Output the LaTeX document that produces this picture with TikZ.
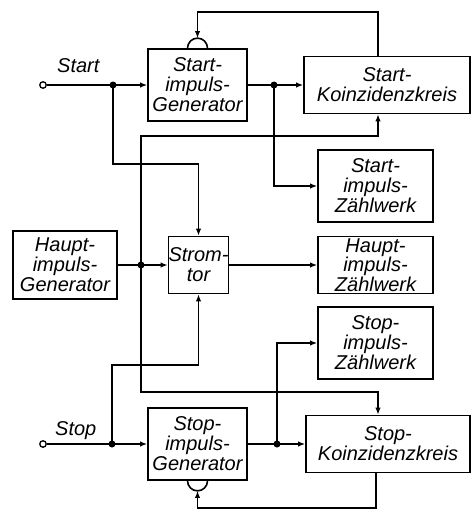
\documentclass[tikz,border=0pt]{standalone}
\usepackage{fontspec}
\setmainfont{Liberation Sans}
\usetikzlibrary{arrows.meta}
\begin{document}
\begin{tikzpicture}[x=1pt,y=-1pt,
  blk/.style={draw, line width=1.7pt, inner sep=0pt, align=center, font=\fontsize{20}{20}\selectfont\itshape},
  tight/.style={font=\fontsize{20}{17}\selectfont\itshape},
  wire/.style={line width=1.6pt},
  arr/.style={wire, -{Latex[length=7pt,width=5.5pt]}},
  dot/.style={circle, fill, inner sep=0pt, minimum size=7pt},
  term/.style={circle, draw, line width=1.3pt, fill=white, inner sep=0pt, minimum size=6.5pt},
  lbl/.style={font=\fontsize{20}{20}\selectfont\itshape, inner sep=0pt}]
\useasboundingbox (0,0) rectangle (473,512);

% blocks
\node[blk, minimum width=99pt, minimum height=72pt] (sg) at (197.5,85) {Start-\\impuls-\\Generator};
\node[blk, minimum width=166pt, minimum height=57pt] (sk) at (387,85) {Start-\\Koinzidenzkreis};
\node[blk, minimum width=115pt, minimum height=72pt] (sz) at (375.5,186) {Start-\\impuls-\\Zählwerk};
\node[blk, tight, minimum width=115pt, minimum height=57pt] (hz) at (375.5,265) {Haupt-\\impuls-\\Zählwerk};
\node[blk, minimum width=115pt, minimum height=72pt] (tz) at (375.5,343) {Stop-\\impuls-\\Zählwerk};
\node[blk, minimum width=164pt, minimum height=57pt] (tk) at (388,444) {Stop-\\Koinzidenzkreis};
\node[blk, minimum width=99pt, minimum height=72pt] (tg) at (197.5,444) {Stop-\\impuls-\\Generator};
\node[blk, minimum width=104pt, minimum height=68pt] (hg) at (65,265) {Haupt-\\impuls-\\Generator};
\node[blk, minimum width=59pt, minimum height=57pt] (st) at (198.5,265) {Strom-\\tor};

% semicircle inputs
\draw[wire] ([xshift=-10pt]sg.north) arc[start angle=180, end angle=0, radius=10pt];
\draw[wire] ([xshift=-10pt]tg.south) arc[start angle=180, end angle=360, radius=10pt];

% terminals and labels
\node[term] (tin) at (43,85) {};
\node[term] (pin) at (43,444) {};
\node[lbl, anchor=base west] (lstart) at (57,72) {Start};
\node[lbl, anchor=base west] (lstop) at (55,435) {Stop};

% junction points
\coordinate (j1) at (113,85);
\coordinate (j2) at (274,85);
\coordinate (j3) at (141,265);
\coordinate (j4) at (112,444);
\coordinate (j5) at (277,444);

% corner points
\coordinate (tA) at (378,12);
\coordinate (tB) at (197.5,12);
\coordinate (bA) at (376,508);
\coordinate (bB) at (197.5,508);
\coordinate (a1) at (113,164);
\coordinate (a3) at (141,136);
\coordinate (a4) at (141,392);
\coordinate (a5) at (112,365);

% feedback loops
\draw[arr] (tA |- sk.north) -- (tA) -- (tB) -- ([yshift=10pt]sg.north);
\draw[arr] (bA |- tk.south) -- (bA) -- (bB) -- ([yshift=-10pt]tg.south);

% start path
\draw[arr] (tin) -- (sg.west);
\draw[arr] (sg.east) -- (sk.west);
\draw[arr] (j1) -- (a1) -- (a1 -| st.north) -- (st.north);
\draw[arr] (j2) -- (j2 |- sz.west) -- (sz.west);

% main path
\draw[arr] (hg.east) -- (st.west);
\draw[arr] (st.east) -- (hz.west);
\draw[arr] (j3) -- (a3) -- (a3 -| tA) -- (tA |- sk.south);
\draw[arr] (j3) -- (a4) -- (a4 -| tA) -- (tA |- tk.north);

% stop path
\draw[arr] (pin) -- (tg.west);
\draw[arr] (tg.east) -- (tk.west);
\draw[arr] (j4) -- (a5) -- (a5 -| st.south) -- (st.south);
\draw[arr] (j5) -- (j5 |- tz.west) -- (tz.west);

% dots
\foreach \j in {j1,j2,j3,j4,j5} \node[dot] at (\j) {};
\end{tikzpicture}
\end{document}
